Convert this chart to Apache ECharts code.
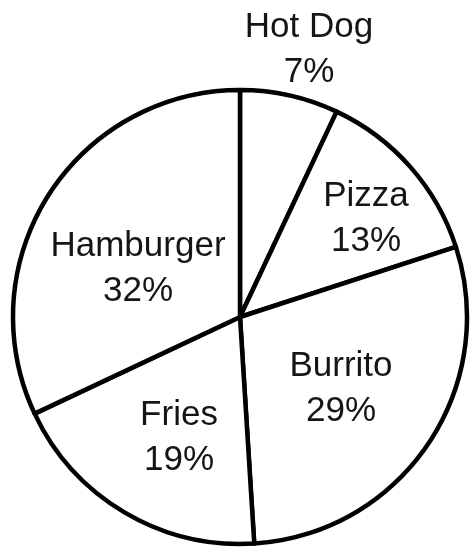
<!DOCTYPE html>
<html>
<head>
<meta charset="utf-8">
<script src="https://cdn.jsdelivr.net/npm/echarts@6/dist/echarts.min.js"></script>
<style>
html,body{margin:0;padding:0;background:#fff;}
#chart{width:471px;height:548px;}
</style>
</head>
<body>
<div id="chart"></div>
<script>
// Data
const categories = ['Hot Dog', 'Pizza', 'Burrito', 'Fries', 'Hamburger'];
const shares = [7, 13, 29, 19, 32];

// Label anchor positions (styling, in pixels)
const labelX = [309, 366, 341, 179, 138];
const labelY = [50, 219, 389, 438, 269];

const chart = echarts.init(document.getElementById('chart'), null, {renderer: 'canvas'});
chart.setOption({
  backgroundColor: '#ffffff',
  animation: false,
  series: [{
    type: 'pie',
    center: [240, 317],
    radius: [0, 227],
    startAngle: 90,
    clockwise: true,
    avoidLabelOverlap: false,
    silent: true,
    itemStyle: {color: '#ffffff', borderColor: '#000000', borderWidth: 4.5},
    label: {
      show: true,
      position: 'inside',
      formatter: '{b}\n{c}%',
      fontFamily: 'Liberation Sans, Arial, sans-serif',
      fontSize: 35,
      lineHeight: 45,
      color: '#151515',
      align: 'center'
    },
    labelLine: {show: false},
    labelLayout: function (p) {
      return {x: labelX[p.dataIndex], y: labelY[p.dataIndex], align: 'center', verticalAlign: 'middle'};
    },
    emphasis: {disabled: true},
    data: categories.map((c, i) => ({name: c, value: shares[i]}))
  }]
});
</script>
</body>
</html>
